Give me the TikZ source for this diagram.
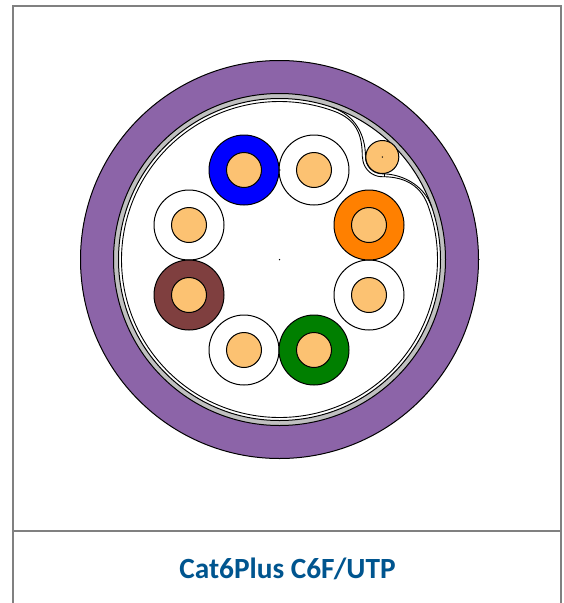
\documentclass[tikz,border=0pt]{standalone}
\usepackage{fontspec}
\setmainfont{Carlito}
\definecolor{jacket}{HTML}{8C64A8}
\definecolor{copper}{HTML}{FCC272}
\definecolor{foil}{HTML}{C0C0C0}
\definecolor{brownins}{HTML}{7F3F3F}
\definecolor{greenins}{HTML}{007F00}
\definecolor{orangeins}{HTML}{FF8000}
\definecolor{blueins}{HTML}{0000FF}
\definecolor{frameg}{HTML}{808080}
\definecolor{titleblue}{HTML}{00558F}
\tikzset{
  x=1pt,y=-1pt,
  insul/.style={circle,draw=black,line width=1pt,minimum size=70pt,inner sep=0pt},
  core/.style={circle,draw=black,fill=copper,line width=1pt,minimum size=35pt,inner sep=0pt},
  ringshape/.style={circle,draw=black,line width=1pt,inner sep=0pt},
  foilline/.style={draw=black,line width=.9pt},
  framel/.style={draw=frameg,line width=2pt},
  tinydot/.style={circle,fill=black,minimum size=1.5pt,inner sep=0pt},
}
\newcommand{\pair}[4]{\node[insul,fill=#4] (#1i) at (#2,#3) {};\node[core] (#1c) at (#2,#3) {};}
\begin{document}
\begin{tikzpicture}
\useasboundingbox (0,0) rectangle (563,603);
\fill[white] (0,0) rectangle (563,603);
\draw[framel] (13,603) -- (13,6) -- (560.5,6) -- (560.5,603);
\draw[framel] (13,531) -- (560.5,531);
\node[ringshape,fill=jacket,minimum size=398pt] (jacketring) at (279.5,259.5) {};
\node[ringshape,fill=foil,minimum size=332pt] (foilring) at (279.5,259.5) {};
\node[ringshape,fill=white,minimum size=322pt] (screenring) at (279.5,259.5) {};
% inner foil line, bulging round the drain wire
\draw[foilline,line join=round]
  plot[domain=-20:290,samples=240] ({279.5+158*cos(\x)},{259.5+158*sin(\x)})
  .. controls (357,119.5) and (362.3,135) .. (362.3,157)
  -- plot[domain=180:90,samples=40] ({382.3+19.7*cos(\x)},{157+19.7*sin(\x)})
  .. controls (400,176.7) and (419.5,182) .. (428,205.5);
% outer foil line
\draw[foilline,line join=round]
  (331.9,107.3) .. controls (355.5,115.4) and (365.5,135) .. (365.5,157)
  -- plot[domain=180:90,samples=40] ({382.3+16.8*cos(\x)},{157+16.8*sin(\x)})
  .. controls (400,173.8) and (423.6,183.5) .. (431.7,207.1);
\node[ringshape,fill=copper,minimum size=33pt] (drain) at (382.3,157) {};
\pair{wa}{314}{170}{white}
\pair{bl}{244}{170}{blueins}
\pair{wb}{189}{225}{white}
\pair{br}{189}{295}{brownins}
\pair{wc}{244}{350}{white}
\pair{gr}{314}{350}{greenins}
\pair{wd}{369}{295}{white}
\pair{or}{369}{225}{orangeins}
\node[tinydot] (cdot) at (279.5,259.5) {};
\node[tinydot] (ddot) at (382.3,157) {};
\node[tinydot] (pdot) at (279.8,170) {};
\node[tinydot] (jdot) at (478.8,259.5) {};
\draw[black,line width=.7pt] (384,174) -- (384,177);
\node[text=titleblue,font=\bfseries\fontsize{29.3}{34}\selectfont,anchor=center] (title) at (287.5,569) {Cat6Plus C6F/UTP};
\end{tikzpicture}
\end{document}
